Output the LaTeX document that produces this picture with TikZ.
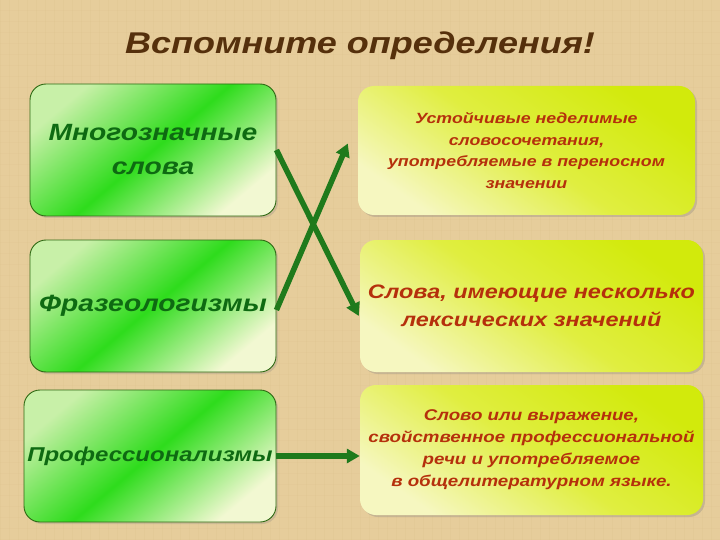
\documentclass[tikz,border=0pt]{standalone}
\usepackage{fontspec}
\setmainfont{Liberation Sans}[FakeStretch=1.2]
\usetikzlibrary{arrows.meta,shadows,calc}
\definecolor{bg}{HTML}{E6CD9B}
\definecolor{bgline}{HTML}{D9BE88}
\definecolor{titlec}{HTML}{55300C}
\definecolor{ltext}{HTML}{0E6A12}
\definecolor{rtext}{HTML}{B5300C}
\definecolor{lborder}{HTML}{2F6A14}
\definecolor{gtop}{HTML}{C8F0A8}
\definecolor{gmid}{HTML}{2EDC1C}
\definecolor{gbot}{HTML}{F2F8D2}
\definecolor{ytop}{HTML}{D2EA0C}
\definecolor{ymid}{HTML}{E0EE40}
\definecolor{ybot}{HTML}{F6F7C0}
\definecolor{arrowc}{HTML}{1F7A1C}
\begin{document}
\begin{tikzpicture}[x=1pt,y=-1pt,
  lbox/.style={draw=lborder, line width=0.9pt, rounded corners=16pt,
    top color=gtop, bottom color=gbot, middle color=gmid, shading angle=40,
    drop shadow={opacity=0.25, shadow xshift=2pt, shadow yshift=-2pt},
    text=ltext, align=center, inner sep=0pt},
  rbox/.style={rounded corners=16pt,
    top color=ytop, bottom color=ybot, middle color=ymid, shading angle=-35,
    drop shadow={opacity=0.3, shadow xshift=2pt, shadow yshift=-2pt},
    text=rtext, align=center, inner sep=0pt},
  ltxt/.style={font=\bfseries\itshape\fontsize{23.5}{34}\selectfont},
  rtxts/.style={font=\bfseries\itshape\fontsize{14.8}{21.5}\selectfont},
  rtxtl/.style={font=\bfseries\itshape\fontsize{19.5}{28}\selectfont},
  conn/.style={draw=arrowc, line width=5.5pt,
    -{Triangle[length=13pt,width=14pt]}}
]
\useasboundingbox (0,0) rectangle (720,540);
\fill[bg] (0,0) rectangle (720,540);
\foreach \i in {0,9,...,720} {\draw[bgline, opacity=0.18, line width=1pt] (\i,0) -- (\i,540);}
\foreach \j in {0,11,...,540} {\draw[bgline, opacity=0.15, line width=1pt] (0,\j) -- (720,\j);}

\node[font=\bfseries\itshape\fontsize{30}{36}\selectfont, text=titlec] (title) at (360,46) {Вспомните определения!};

\node[lbox, ltxt, minimum width=246pt, minimum height=132pt] (L1) at (153,150) {Многозначные\\слова};
\node[lbox, ltxt, minimum width=246pt, minimum height=132pt] (L2) at (153,306) {Фразеологизмы};
\node[lbox, ltxt, minimum width=252pt, minimum height=132pt, font=\bfseries\itshape\fontsize{20}{26}\selectfont] (L3) at (150,456) {Профессионализмы};

\node[rbox, rtxts, minimum width=337pt, minimum height=129pt] (R1) at (526.5,150.5) {Устойчивые неделимые\\словосочетания,\\употребляемые в переносном\\значении};
\node[rbox, rtxtl, minimum width=343pt, minimum height=132pt] (R2) at (531.5,306) {Слова, имеющие несколько\\лексических значений};
\node[rbox, rtxts, minimum width=343pt, minimum height=130pt, font=\bfseries\itshape\fontsize{15.6}{22}\selectfont] (R3) at (531.5,450) {Слово или выражение,\\свойственное профессиональной\\речи и употребляемое\\в общелитературном языке.};

\draw[conn] (L1.east) -- ([xshift=-1pt,yshift=-10pt]R2.west);
\draw[conn] ([yshift=-4pt]L2.east) -- ([xshift=-10pt,yshift=7pt]R1.west);
\draw[conn] (L3.east) -- (L3.east -| R3.west);
\end{tikzpicture}
\end{document}
